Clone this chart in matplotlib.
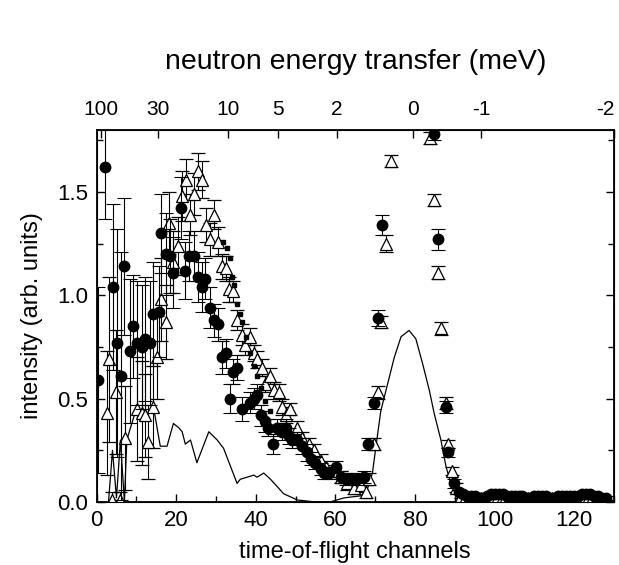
import numpy as np
import matplotlib.pyplot as plt
from matplotlib.ticker import MultipleLocator

plt.rcParams['font.family'] = ['Liberation Sans', 'DejaVu Sans']

# filled circles: channel, intensity, error
circ_x = [0.45, 2.1, 4.1, 5.1, 6.1, 7.0, 8.3, 9.1, 10.1, 11.4, 12.2, 13.5, 14.3, 15.6,
          16.2, 17.5, 18.5, 19.3, 21.2, 22.3, 23.1, 24.4, 25.4, 26.5, 27.3, 28.5, 29.5,
          30.4, 31.5, 32.4, 33.5, 34.3, 35.3, 36.6, 38.5, 39.5, 40.3, 41.3, 42.2, 43.0,
          44.4, 45.4, 46.6, 47.5, 48.3, 49.2, 50.4, 51.7, 52.9, 53.8, 55.0, 56.3, 57.1,
          58.4, 60.1, 61.3, 62.6, 63.9, 65.5, 67.2, 68.3, 69.6, 70.6, 71.6,
          84.7, 85.7, 87.8, 88.4, 89.7,
          91, 92, 93, 94, 95, 96, 97, 98, 99, 100, 101, 102, 103, 104, 105, 106, 107,
          108, 109, 110, 111, 112, 113, 114, 115, 116, 117, 118, 119, 120, 121, 122,
          123, 124, 125, 126, 127, 128]
circ_y = [0.59, 1.62, 1.04, 0.77, 0.61, 1.14, 0.73, 0.85, 0.77, 0.75, 0.79, 0.77, 0.91, 0.92,
          1.30, 1.20, 1.19, 1.11, 1.42, 1.12, 1.19, 1.19, 1.09, 1.04, 1.08, 0.94, 0.88,
          0.86, 0.70, 0.72, 0.50, 0.63, 0.65, 0.45, 0.48, 0.50, 0.52, 0.42, 0.39, 0.36,
          0.28, 0.36, 0.34, 0.36, 0.32, 0.30, 0.30, 0.27, 0.24, 0.21, 0.19, 0.16, 0.14,
          0.14, 0.17, 0.12, 0.11, 0.11, 0.11, 0.12, 0.28, 0.48, 0.89, 1.34,
          1.78, 1.27, 0.46, 0.24, 0.09,
          0.05, 0.04, 0.03, 0.03, 0.03, 0.02, 0.02, 0.03, 0.04, 0.04, 0.04, 0.04, 0.03,
          0.03, 0.03, 0.03, 0.03, 0.02, 0.02, 0.03, 0.03, 0.03, 0.03, 0.02, 0.02, 0.03,
          0.03, 0.03, 0.03, 0.03, 0.03, 0.04, 0.04, 0.04, 0.03, 0.03, 0.02, 0.02]
circ_e = [0.45, 0.25, 0.40, 0.55, 0.60, 0.33, 0.35, 0.25, 0.30, 0.30, 0.30, 0.30, 0.25, 0.22,
          0.19, 0.20, 0.18, 0.17, 0.15, 0.14, 0.12, 0.12, 0.12, 0.12, 0.10, 0.10, 0.08,
          0.08, 0.08, 0.07, 0.07, 0.06, 0.06, 0.06, 0.05, 0.05, 0.05, 0.05, 0.05, 0.04,
          0.05, 0.04, 0.04, 0.04, 0.04, 0.04, 0.04, 0.04, 0.04, 0.03, 0.03, 0.03, 0.03,
          0.03, 0.03, 0.03, 0.03, 0.03, 0.03, 0.03, 0.03, 0.03, 0.04, 0.05,
          0.03, 0.05, 0.03, 0.02, 0.02] + [0.01] * 38

# open triangles: channel, intensity, error
tri_x = [2.6, 3.0, 3.8, 4.9, 5.9, 7.2, 10.1, 11.4, 12.2, 13.0, 14.2, 15.2, 16.2, 17.4,
         18.3, 19.3, 20.4, 21.5, 22.5, 23.4, 24.6, 25.6, 26.5, 27.6, 28.4, 29.6, 30.4,
         31.5, 32.4, 33.2, 34.3, 35.3, 36.6, 37.4, 38.6, 39.5, 40.3, 41.5, 42.4, 43.5,
         44.5, 45.8, 46.6, 47.5, 48.6, 50.4, 51.7, 53.4, 54.6, 56.3, 57.6, 59.6, 61.3,
         63.0, 64.7, 66.4, 67.7, 68.5, 69.6, 70.6, 71.5, 72.7, 73.9,
         83.8, 84.8, 85.7, 86.5, 87.8, 88.4, 89.2, 90.3,
         91.5, 92.5, 93.5, 94.5, 95.5, 96.5, 97.5, 98.5, 99.5, 100.5, 101.5, 102.5, 103.5,
         104.5, 105.5, 106.5, 107.5, 108.5, 109.5, 110.5, 111.5, 112.5, 113.5, 114.5,
         115.5, 116.5, 117.5, 118.5, 119.5, 120.5, 121.5, 122.5, 123.5, 124.5, 125.5,
         126.5, 127.5]
tri_y = [0.43, 0.69, 0.01, 0.53, 0.01, 0.31, 0.45, 0.43, 0.42, 0.29, 0.46, 0.70, 0.98, 0.87,
         1.35, 1.16, 1.24, 1.48, 1.56, 1.39, 1.49, 1.60, 1.56, 1.34, 1.27, 1.39, 1.26,
         1.14, 1.13, 1.03, 1.02, 0.88, 0.81, 0.76, 0.80, 0.72, 0.69, 0.65, 0.57, 0.61,
         0.54, 0.53, 0.46, 0.42, 0.45, 0.36, 0.31, 0.28, 0.25, 0.20, 0.17, 0.15, 0.12,
         0.09, 0.07, 0.08, 0.05, 0.11, 0.28, 0.53, 0.87, 1.25, 1.65,
         1.76, 1.46, 1.11, 0.84, 0.48, 0.28, 0.15, 0.07,
         0.03, 0.02, 0.02, 0.02, 0.01, 0.02, 0.02, 0.01, 0.02, 0.02, 0.01, 0.02, 0.02,
         0.01, 0.02, 0.02, 0.01, 0.02, 0.01, 0.02, 0.02, 0.01, 0.02, 0.02,
         0.01, 0.02, 0.02, 0.01, 0.02, 0.02, 0.02, 0.01, 0.02, 0.02, 0.01,
         0.02, 0.01]
tri_e = [0.30, 0.40, 0.04, 0.30, 0.04, 0.25, 0.25, 0.25, 0.20, 0.18, 0.20, 0.20, 0.20, 0.18,
         0.15, 0.15, 0.14, 0.12, 0.10, 0.10, 0.10, 0.09, 0.09, 0.08, 0.08, 0.07, 0.07,
         0.06, 0.06, 0.06, 0.05, 0.05, 0.05, 0.05, 0.04, 0.04, 0.04, 0.04, 0.04, 0.04,
         0.04, 0.04, 0.04, 0.04, 0.03, 0.03, 0.03, 0.03, 0.03, 0.03, 0.03, 0.03, 0.03,
         0.03, 0.03, 0.03, 0.03, 0.03, 0.03, 0.03, 0.03, 0.04, 0.03,
         0.03, 0.03, 0.03, 0.03, 0.03, 0.02, 0.02, 0.02] + [0.01] * 37

# small squares
sq_x = [31.8, 32.8, 33.5, 34.0, 34.5, 35.3, 36.0, 36.6, 37.5, 38.5, 39.5, 40.3, 41.3, 42.4, 43.5]
sq_y = [1.26, 1.23, 1.18, 1.09, 1.05, 0.96, 0.91, 0.87, 0.80, 0.72, 0.66, 0.61, 0.55, 0.49, 0.44]

# solid line
line_x = [3, 4, 5, 6, 7, 7.6, 10.1, 11.8, 14.3, 16.0, 17.7, 19.3, 20.6, 21.5, 22.3, 23.6,
          25.2, 28.2, 30.3, 31.9, 35.3, 36.1, 37.8, 39.5, 40.3, 42.0, 43.7, 47.0, 50.4,
          55.0, 58.6, 62.2, 66.4, 68.0, 69.3, 70.2, 71.4, 73.1, 74.8, 76.5, 78.5, 80.2,
          81.9, 83.6, 84.8, 86.5, 87.8, 89.0, 90.3, 92.0, 130]
line_y = [0.0, 0.25, 0.02, 0.30, 0.0, 0.30, 0.46, 0.41, 0.46, 0.27, 0.27, 0.38, 0.36, 0.34,
          0.28, 0.30, 0.19, 0.34, 0.30, 0.26, 0.09, 0.11, 0.12, 0.13, 0.12, 0.14, 0.11,
          0.04, 0.01, 0.0, 0.0, 0.02, 0.03, 0.06, 0.14, 0.27, 0.44, 0.57, 0.70, 0.80, 0.83,
          0.79, 0.67, 0.54, 0.43, 0.30, 0.17, 0.09, 0.04, 0.0, 0.0]

# top axis: energy transfer ticks at channel positions
e_pos = [1, 15.5, 33, 45.5, 60.3, 79.5, 96.7, 130]
e_lab = ['100', '30', '10', '5', '2', '0', '-1', '-2']

fig = plt.figure(figsize=(6.19, 5.65), dpi=100)
ax = fig.add_axes([0.156, 0.1115, 0.836, 0.6585])

ax.plot(line_x, line_y, color='black', lw=0.9, zorder=2)
ax.errorbar(tri_x, tri_y, yerr=tri_e, fmt='^', ms=8, mfc='white', mec='black', mew=0.9,
            ecolor='black', elinewidth=0.8, capsize=5, capthick=0.8, zorder=3)
ax.errorbar(circ_x, circ_y, yerr=circ_e, fmt='o', ms=7.5, mfc='black', mec='black',
            ecolor='black', elinewidth=0.8, capsize=5, capthick=0.8, zorder=4)
ax.plot(sq_x, sq_y, 's', ms=2.5, color='black', zorder=4)

ax.set_xlim(0, 130)
ax.set_ylim(0, 1.8)
ax.set_xticks([0, 20, 40, 60, 80, 100, 120])
ax.xaxis.set_minor_locator(MultipleLocator(10))
ax.set_yticks([0, 0.5, 1.0, 1.5])
ax.set_yticklabels(['0.0', '0.5', '1.0', '1.5'])
ax.yaxis.set_minor_locator(MultipleLocator(0.25))
ax.tick_params(which='both', direction='in', right=True, top=False, labelsize=16, width=1)
ax.tick_params(which='major', length=6)
ax.tick_params(which='minor', length=4)
ax.tick_params(axis='x', pad=6)
ax.tick_params(axis='y', pad=6)
for s in ax.spines.values():
    s.set_linewidth(1.3)

ax.set_xlabel('time-of-flight channels', fontsize=17, labelpad=7)
ax.set_ylabel('intensity (arb. units)', fontsize=17, labelpad=10)

ax2 = ax.twiny()
ax2.set_xlim(0, 130)
ax2.set_xticks(e_pos)
ax2.set_xticklabels(e_lab)
ax2.tick_params(direction='in', length=6, width=1, labelsize=15, pad=8)
ax2.get_xticklabels()[-1].set_horizontalalignment('right')
ax2.set_xlabel('neutron energy transfer (meV)', fontsize=20.5, labelpad=22)

fig.savefig('out.png', dpi=100)
